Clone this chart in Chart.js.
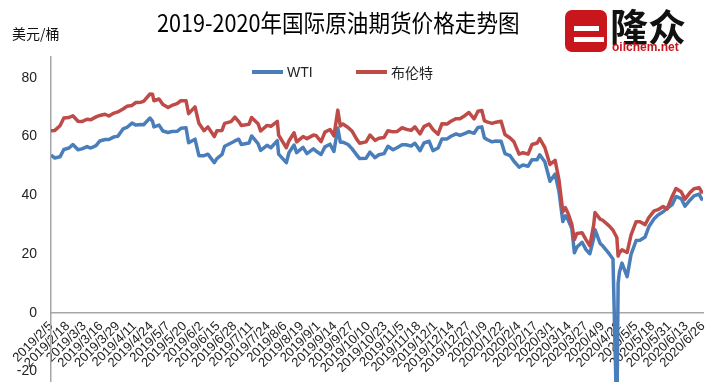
<!DOCTYPE html>
<html>
<head>
<meta charset="utf-8">
<script src="https://cdn.jsdelivr.net/npm/chart.js@4"></script>
<style>
  html, body { margin: 0; padding: 0; background: #fff; overflow: hidden; }
  #wrap { position: relative; width: 720px; height: 382px; }
  #c { position: absolute; left: 0; top: 0; }
  .txt { position: absolute; white-space: nowrap; font-family: "Noto Sans CJK SC", sans-serif; color: #111; line-height: 1; }
  .leg { position: absolute; top: 64px; height: 16px; display: flex; align-items: center; font-family: "Liberation Sans", "Noto Sans CJK SC", sans-serif; font-size: 14px; color: #222; }
  .leg span.line { display: inline-block; width: 31px; height: 3.5px; margin-right: 4px; }
</style>
</head>
<body>
<div id="wrap">
  <canvas id="c" width="720" height="382"></canvas>
  <div class="txt" style="left:157px; top:10px; font-size:24px; transform:scaleX(0.9); transform-origin:left top; color:#000;">2019-2020年国际原油期货价格走势图</div>
  <div class="txt" style="left:12px; top:26px; font-size:14px;">美元/桶</div>
  <div id="legend"></div>
  <div id="logo" style="position:absolute; left:565px; top:10px;">
    <svg width="42" height="42" viewBox="0 0 42 42">
      <rect x="0" y="0" width="42" height="42" rx="7" fill="#c9161d"/>
      <rect x="9" y="16" width="25" height="5" fill="#fff"/>
      <rect x="9" y="27" width="30" height="5" fill="#fff"/>
    </svg>
  </div>
  <div class="txt" style="left:610px; top:6px; font-size:38px; font-weight:bold; color:#111;">隆众</div>
  <div class="txt" style="left:612px; top:41px; font-size:12px; font-weight:bold; font-family:'Liberation Sans',sans-serif; color:#c9161d;">oilchem.net</div>
</div>
<script>
// 日付 (取引日の抜粋)
const dates = [
  '2019/2/5','2019/2/8','2019/2/12','2019/2/15','2019/2/19','2019/2/22','2019/2/26','2019/3/1','2019/3/5','2019/3/8',
  '2019/3/12','2019/3/15','2019/3/19','2019/3/22','2019/3/26','2019/3/29','2019/4/2','2019/4/5','2019/4/9','2019/4/12',
  '2019/4/16','2019/4/18','2019/4/23','2019/4/25','2019/4/26','2019/4/30','2019/5/3','2019/5/7','2019/5/10','2019/5/14',
  '2019/5/17','2019/5/21','2019/5/23','2019/5/28','2019/5/31','2019/6/4','2019/6/7','2019/6/12','2019/6/14','2019/6/18',
  '2019/6/20','2019/6/25','2019/6/28','2019/7/1','2019/7/3','2019/7/9','2019/7/11','2019/7/16','2019/7/18','2019/7/23',
  '2019/7/26','2019/7/31','2019/8/1','2019/8/7','2019/8/9','2019/8/13','2019/8/15','2019/8/20','2019/8/23','2019/8/28',
  '2019/8/30','2019/9/3','2019/9/6','2019/9/10','2019/9/13','2019/9/16','2019/9/18','2019/9/20','2019/9/24','2019/9/27',
  '2019/10/1','2019/10/3','2019/10/8','2019/10/11','2019/10/15','2019/10/18','2019/10/22','2019/10/25','2019/10/29','2019/11/1',
  '2019/11/5','2019/11/8','2019/11/12','2019/11/15','2019/11/19','2019/11/22','2019/11/26','2019/11/29','2019/12/3','2019/12/6',
  '2019/12/10','2019/12/13','2019/12/17','2019/12/20','2019/12/24','2019/12/27','2019/12/31','2020/1/3','2020/1/6','2020/1/8',
  '2020/1/10','2020/1/14','2020/1/17','2020/1/21','2020/1/24','2020/1/28','2020/1/31','2020/2/4','2020/2/7','2020/2/11',
  '2020/2/14','2020/2/18','2020/2/20','2020/2/24','2020/2/28','2020/3/3','2020/3/6','2020/3/9','2020/3/11','2020/3/13',
  '2020/3/16','2020/3/18','2020/3/20','2020/3/24','2020/3/27','2020/3/30','2020/4/2','2020/4/3','2020/4/7','2020/4/9',
  '2020/4/14','2020/4/17','2020/4/20','2020/4/21','2020/4/22','2020/4/24','2020/4/28','2020/5/1','2020/5/5','2020/5/8',
  '2020/5/12','2020/5/15','2020/5/19','2020/5/22','2020/5/26','2020/5/29','2020/6/2','2020/6/5','2020/6/9','2020/6/12',
  '2020/6/16','2020/6/19','2020/6/23','2020/6/25','2020/6/26'
];

const wti = [
  53.7,52.7,53.1,55.6,56.1,57.3,55.5,55.8,56.6,56.1,
  56.9,58.5,59.0,59.0,59.9,60.1,62.6,63.1,64.6,63.9,
  64.1,64.0,66.3,65.2,63.3,63.9,61.9,61.4,61.7,61.8,
  62.8,63.0,57.9,59.1,53.5,53.5,54.0,51.1,52.5,53.9,
  56.7,57.8,58.5,59.1,57.3,57.8,60.2,57.6,55.3,57.0,
  56.2,58.6,54.0,51.1,54.5,57.1,54.5,56.3,54.2,55.8,
  55.1,53.9,56.5,57.4,54.9,62.9,58.1,58.1,57.3,55.9,
  53.6,52.5,52.6,54.7,52.8,53.8,54.2,56.7,55.5,56.2,
  57.2,57.2,56.8,57.7,55.2,57.8,58.4,55.2,56.1,59.2,
  59.2,60.1,60.9,60.4,61.1,61.7,61.1,63.1,63.3,59.6,
  59.0,58.2,58.5,58.4,54.2,53.5,51.6,49.6,50.3,49.9,
  52.1,52.1,53.8,51.4,44.8,47.2,41.3,31.1,33.0,31.7,
  28.7,20.4,22.4,24.0,21.5,20.1,25.3,28.3,23.6,22.8,
  20.1,18.3,-37.6,10.0,13.8,16.9,12.3,19.8,24.6,24.7,
  25.8,29.4,32.0,33.3,34.4,35.5,36.8,39.6,38.9,36.3,
  38.4,39.8,40.4,38.7,38.5
];

const brent = [
  62.0,62.1,63.7,66.3,66.5,67.1,65.2,65.1,65.9,65.7,
  66.7,67.2,67.6,67.0,68.0,68.4,69.4,70.3,70.6,71.6,
  71.7,72.0,74.5,74.4,72.2,72.8,70.9,69.9,70.6,71.2,
  72.2,72.2,67.8,70.1,64.5,62.0,63.3,60.0,62.0,62.1,
  64.5,65.1,66.6,65.1,63.8,64.2,66.5,64.4,61.9,63.8,
  63.5,65.2,60.5,56.2,58.5,61.3,58.2,60.0,59.3,60.5,
  60.4,58.3,61.5,62.4,60.2,69.0,63.6,64.3,63.1,61.9,
  58.9,57.7,58.2,60.5,58.7,59.4,59.7,62.0,61.6,61.7,
  63.0,62.5,62.1,63.3,60.9,63.4,64.3,62.4,60.8,64.4,
  64.3,65.2,66.1,66.1,67.2,68.2,66.0,68.6,68.9,65.4,
  65.0,64.5,64.9,65.2,60.7,59.5,58.2,54.0,54.5,54.0,
  57.3,57.8,59.3,56.3,50.5,51.9,45.3,34.4,35.8,33.9,
  30.1,24.9,27.0,27.2,24.9,22.8,29.9,34.1,31.9,31.5,
  29.6,28.1,25.6,19.3,20.4,21.4,20.5,26.4,31.0,31.0,
  30.0,32.5,34.7,35.1,36.2,35.3,39.6,42.3,41.2,38.7,
  41.0,42.2,42.6,41.1,41.0
];

const tickLabels = [
  '2019/2/5','2019/2/18','2019/3/3','2019/3/16','2019/3/29','2019/4/11','2019/4/24','2019/5/7','2019/5/20','2019/6/2',
  '2019/6/15','2019/6/28','2019/7/11','2019/7/24','2019/8/6','2019/8/19','2019/9/1','2019/9/14','2019/9/27','2019/10/10',
  '2019/10/23','2019/11/5','2019/11/18','2019/12/1','2019/12/14','2019/12/27','2020/1/9','2020/1/22','2020/2/4','2020/2/17',
  '2020/3/1','2020/3/14','2020/3/27','2020/4/9','2020/4/22','2020/5/5','2020/5/18','2020/5/31','2020/6/13','2020/6/26'
];

const yTicks = [-20, 0, 20, 40, 60, 80];

const t0 = Date.UTC(2019, 1, 5);
function dayOf(s) {
  const p = s.split('/').map(Number);
  return Math.round((Date.UTC(p[0], p[1] - 1, p[2]) - t0) / 86400000);
}
const xs = dates.map(dayOf);

const axisGray = '#a6a6a6';

const chart = new Chart(document.getElementById('c'), {
  type: 'line',
  data: {
    datasets: [{
      label: 'WTI',
      data: xs.map((x, i) => ({x: x, y: wti[i]})),
      borderColor: '#4A7EBB',
      backgroundColor: '#4A7EBB',
      borderWidth: 3.5,
      pointRadius: 0,
      tension: 0,
      borderJoinStyle: 'round',
      order: 1
    }, {
      label: '布伦特',
      data: xs.map((x, i) => ({x: x, y: brent[i]})),
      borderColor: '#BE4B48',
      backgroundColor: '#BE4B48',
      borderWidth: 3.5,
      pointRadius: 0,
      tension: 0,
      borderJoinStyle: 'round',
      order: 0
    }]
  },
  options: {
    responsive: false,
    animation: false,
    layout: { padding: { top: 57, right: 17, bottom: 0, left: 0 } },
    plugins: { legend: { display: false }, tooltip: { enabled: false } },
    scales: {
      x: {
        type: 'linear',
        position: { y: 0 },
        min: 0,
        max: dayOf(tickLabels[tickLabels.length - 1]),
        afterBuildTicks: (a) => { a.ticks = tickLabels.map(s => ({value: dayOf(s)})); },
        afterFit: (a) => { a.height = 0; a.paddingTop = 0; a.paddingBottom = 0; a.paddingRight = 0; },
        grid: { display: false, drawTicks: false },
        border: { display: true, color: axisGray, width: 1.5 },
        ticks: {
          autoSkip: false,
          minRotation: 45,
          maxRotation: 45,
          padding: 6,
          color: '#222',
          font: { family: 'Liberation Sans', size: 13 },
          callback: (v, i) => tickLabels[i]
        }
      },
      y: {
        min: -23.6,
        max: 87.1,
        afterBuildTicks: (a) => { a.ticks = yTicks.map(v => ({value: v})); },
        afterFit: (a) => { a.width = 51; a.paddingTop = 0; a.paddingBottom = 0; },
        grid: { display: false, drawTicks: false },
        border: { display: true, color: axisGray, width: 1.5 },
        ticks: {
          padding: 14,
          color: '#222',
          font: { family: 'Liberation Sans', size: 14 }
        }
      }
    }
  }
});

// html legend
const legendLeft = [252, 356];
const legendBox = document.getElementById('legend');
chart.data.datasets.forEach((ds, i) => {
  const item = document.createElement('div');
  item.className = 'leg';
  item.style.left = legendLeft[i] + 'px';
  item.innerHTML = '<span class="line" style="background:' + ds.borderColor + '"></span>' + ds.label;
  legendBox.appendChild(item);
});
</script>
</body>
</html>
